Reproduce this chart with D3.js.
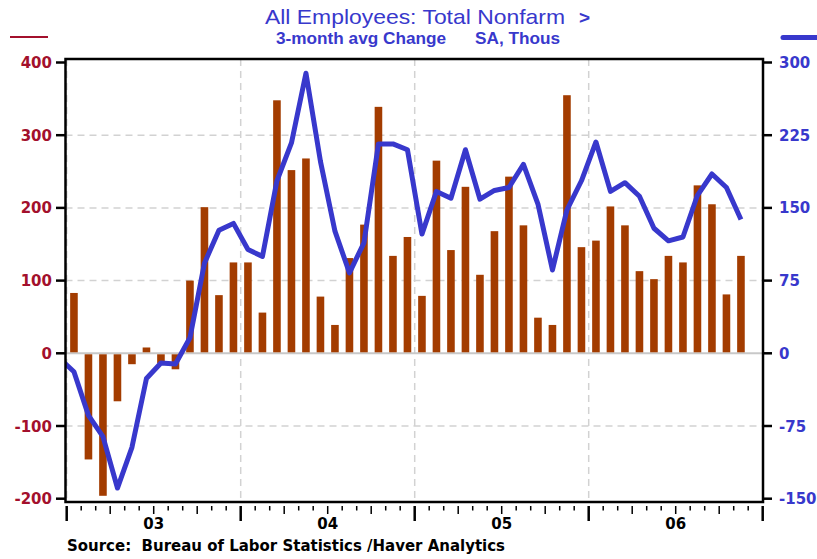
<!DOCTYPE html>
<html>
<head>
<meta charset="utf-8">
<script src="https://cdn.jsdelivr.net/npm/d3@7"></script>
<style>
  body { margin: 0; background: #fff; }
  svg { display: block; }
  text { white-space: pre; }
</style>
</head>
<body>
<div id="chart"></div>
<script>
// monthly change, thousands (bars, left axis), Jan 2003 .. Nov 2006
var barVals = [
   83, -146, -196,  -66,  -15,    8,  -14,  -22,  100,  201,   80,  125,
  125,   56,  348,  252,  268,   78,   39,  131,  177,  339,  134,  160,
   79,  265,  142,  229,  108,  168,  243,  176,   49,   39,  355,  146,
  155,  202,  176,  113,  102,  134,  125,  231,  205,   81,  134
]
// 3-month avg change (line, right axis), Dec 2002 .. Nov 2006
var avgVals = [
   -5,
  -19,  -64,  -86, -139,  -97,  -26,  -10,  -11,   16,   93,  127,  134,
  107,  100,  178,  217,  289,  198,  126,   83,  114,  216,  216,  210,
  123,  167,  160,  210,  159,  168,  171,  195,  154,   86,  148,  178,
  218,  167,  176,  162,  129,  116,  120,  163,  185,  171,  138
]
var yearLabels = ['03', '04', '05', '06']
var leftTicks = [-200, -100, 0, 100, 200, 300, 400]
var rightTicks = [-150, -75, 0, 75, 150, 225, 300]

var W = 817, H = 559
var pL = 65.5, pR = 763, pT = 59, pB = 502

var svg = d3.select('#chart').append('svg').attr('width', W).attr('height', H)

var x = d3.scaleLinear().domain([0, 48]).range([66.7, 762.7])
var yL = d3.scaleLinear().domain([-200, 400]).range([498.7, 62.5])
var yR = d3.scaleLinear().domain([-150, 300]).range([498.7, 62.5])

svg.append('clipPath').attr('id', 'clip')
  .append('rect').attr('x', pL).attr('y', pT).attr('width', pR - pL).attr('height', pB - pT)

var plot = svg.append('g').attr('clip-path', 'url(#clip)')

// grid
plot.selectAll('line.hgrid').data([-100, 100, 200, 300]).enter().append('line')
  .attr('x1', pL).attr('x2', pR)
  .attr('y1', d => yL(d)).attr('y2', d => yL(d))
  .attr('stroke', '#d2d2d2').attr('stroke-width', 1.5).attr('stroke-dasharray', '7,5')
plot.selectAll('line.vgrid').data([0, 12, 24, 36]).enter().append('line')
  .attr('x1', d => x(d)).attr('x2', d => x(d))
  .attr('y1', pT).attr('y2', pB)
  .attr('stroke', '#d2d2d2').attr('stroke-width', 1.5).attr('stroke-dasharray', '7,5')

plot.append('line')
  .attr('x1', pL).attr('x2', pR).attr('y1', yL(0)).attr('y2', yL(0))
  .attr('stroke', '#c8c8c8').attr('stroke-width', 2)

// bars
var bw = 7.6
plot.selectAll('rect.bar').data(barVals).enter().append('rect')
  .attr('x', (d, i) => x(i + 0.5) - bw / 2)
  .attr('width', bw)
  .attr('y', d => d > 0 ? yL(d) : yL(0) + 1)
  .attr('height', d => Math.abs(yL(d) - yL(0)) - 1)
  .attr('fill', '#a33c00')

// line
var line = d3.line().x((d, i) => x(i - 0.5)).y(d => yR(d))
plot.append('path').datum(avgVals)
  .attr('d', line)
  .attr('fill', 'none').attr('stroke', '#3838cc').attr('stroke-width', 5)
  .attr('stroke-linejoin', 'round')

// frame
svg.append('rect')
  .attr('x', pL).attr('y', pT).attr('width', pR - pL).attr('height', pB - pT)
  .attr('fill', 'none').attr('stroke', '#000').attr('stroke-width', 2.5)

// left axis
svg.selectAll('line.lt').data(leftTicks).enter().append('line')
  .attr('x1', 56).attr('x2', pL).attr('y1', d => yL(d)).attr('y2', d => yL(d))
  .attr('stroke', '#000').attr('stroke-width', 2.5)
svg.selectAll('text.ll').data(leftTicks).enter().append('text')
  .attr('x', 52).attr('y', d => yL(d) + 5.5)
  .attr('text-anchor', 'end')
  .style('font', 'bold 15px "DejaVu Sans"').attr('fill', '#a3102c')
  .text(d => d)

// right axis
svg.selectAll('line.rt').data(rightTicks).enter().append('line')
  .attr('x1', pR).attr('x2', 772).attr('y1', d => yR(d)).attr('y2', d => yR(d))
  .attr('stroke', '#000').attr('stroke-width', 2.5)
svg.selectAll('text.rl').data(rightTicks).enter().append('text')
  .attr('x', 779).attr('y', d => yR(d) + 5.5)
  .style('font', 'bold 15px "DejaVu Sans"').attr('fill', '#3838cc')
  .text(d => d)

// x axis ticks
var months = d3.range(0, 49)
svg.selectAll('line.xt').data(months).enter().append('line')
  .attr('x1', d => x(d)).attr('x2', d => x(d))
  .attr('y1', 506)
  .attr('y2', d => d % 12 == 0 ? 521 : d % 3 == 0 ? 514 : 510.5)
  .attr('stroke', '#000')
  .attr('stroke-width', d => d % 12 == 0 ? 2.5 : 1.5)
svg.selectAll('text.yl').data(yearLabels).enter().append('text')
  .attr('x', (d, i) => x(i * 12 + 6)).attr('y', 529)
  .attr('text-anchor', 'middle')
  .style('font', 'bold 15px "DejaVu Sans"').attr('fill', '#000')
  .text(d => d)

// titles
svg.append('text').attr('x', 265).attr('y', 24)
  .style('font', '21px "Liberation Sans"').attr('fill', '#3838cc')
  .attr('textLength', 300).attr('lengthAdjust', 'spacingAndGlyphs')
  .text('All Employees: Total Nonfarm')
svg.append('text').attr('x', 579).attr('y', 24)
  .style('font', 'bold 19px "Liberation Sans"').attr('fill', '#3838cc')
  .text('>')
svg.append('text').attr('x', 276).attr('y', 43.5)
  .style('font', 'bold 16px "Liberation Sans"').attr('fill', '#3838cc')
  .attr('textLength', 170).attr('lengthAdjust', 'spacingAndGlyphs')
  .text('3-month avg Change')
svg.append('text').attr('x', 475).attr('y', 43.5)
  .style('font', 'bold 16px "Liberation Sans"').attr('fill', '#3838cc')
  .attr('textLength', 85).attr('lengthAdjust', 'spacingAndGlyphs')
  .text('SA, Thous')

// legend keys
svg.append('line').attr('x1', 10).attr('x2', 48).attr('y1', 37).attr('y2', 37)
  .attr('stroke', '#a3102c').attr('stroke-width', 2)
svg.append('line').attr('x1', 783).attr('x2', 822).attr('y1', 37.5).attr('y2', 37.5)
  .attr('stroke', '#3838cc').attr('stroke-width', 5).attr('stroke-linecap', 'round')

// source
svg.append('text').attr('x', 67).attr('y', 551)
  .style('font', 'bold 15px "DejaVu Sans"').attr('fill', '#000')
  .attr('textLength', 438).attr('lengthAdjust', 'spacingAndGlyphs')
  .text('Source:  Bureau of Labor Statistics /Haver Analytics')
</script>
</body>
</html>
